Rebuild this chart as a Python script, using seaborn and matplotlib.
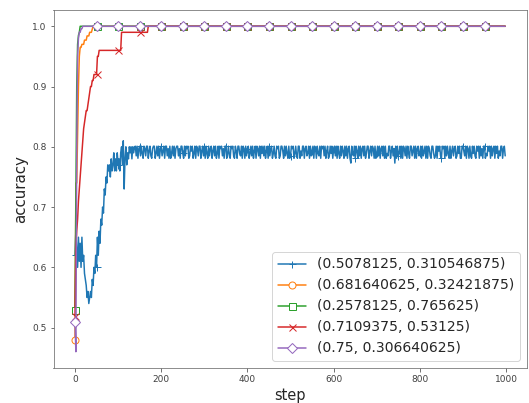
import numpy as np
import pandas as pd
import matplotlib
matplotlib.use("Agg")
import matplotlib.pyplot as plt
import seaborn as sns

# ---------------- data (sampled every 2 steps) ----------------
steps = list(range(0, 1000, 2))  # 500 samples

labels = [
    "(0.5078125, 0.310546875)",
    "(0.681640625, 0.32421875)",
    "(0.2578125, 0.765625)",
    "(0.7109375, 0.53125)",
    "(0.75, 0.306640625)",
]

blue_head = [
    .62, .66, .63, .60, .65, .61, .64, .60, .65, .61,
    .62, .59, .58, .57, .55, .56, .54, .55, .56, .55,
    .58, .57, .60, .59, .62, .60, .65, .62, .66, .64,
    .68, .67, .70, .69, .73, .72, .75, .74, .77, .76,
    .77, .75, .78, .76, .77, .79, .76, .78, .76, .79,
    .77, .78, .76, .79, .80, .77, .81, .73, .78, .80,
    .77, .79, .78, .80, .79, .80, .78, .80, .79, .80,
]
blue_tail = [
    .801, .785, .801, .781, .797, .801, .785, .801, .789, .781,
    .801, .797, .785, .801, .801, .781, .793, .801, .785, .781,
    .797, .801, .801, .781, .789, .801, .785, .801, .781, .797,
    .801, .785, .793, .801, .781, .801, .801, .785, .797, .781,
    .801, .781, .789, .801, .785, .801, .781, .797, .801, .801,
    .785, .797, .781, .801, .801, .789, .781, .801, .785, .801,
    .797, .801, .781, .785, .801, .793, .801, .781, .789, .801,
    .781, .801, .797, .785, .801, .801, .781, .793, .801, .785,
    .801, .781, .801, .789, .781, .801, .785, .797, .801, .781,
    .793, .801, .785, .801, .781, .789, .801, .781, .801, .797,
    .801, .785, .797, .781, .801, .801, .781, .789, .801, .785,
    .781, .801, .797, .801, .785, .781, .801, .793, .781, .801,
    .801, .789, .785, .801, .781, .801, .797, .781, .801, .785,
    .797, .801, .781, .789, .801, .785, .801, .781, .793, .801,
    .781, .801, .797, .785, .801, .781, .801, .789, .801, .785,
    .801, .781, .793, .801, .781, .801, .785, .797, .801, .781,
    .789, .801, .785, .781, .801, .797, .801, .781, .785, .801,
    .801, .793, .781, .801, .785, .801, .789, .781, .801, .781,
    .785, .801, .797, .801, .781, .789, .801, .785, .781, .801,
    .801, .781, .793, .785, .801, .801, .781, .797, .801, .785,
    .789, .801, .781, .801, .785, .793, .801, .781, .801, .797,
    .781, .801, .789, .785, .801, .781, .801, .797, .801, .785,
    .801, .781, .793, .801, .781, .785, .801, .789, .801, .781,
    .797, .801, .785, .801, .781, .801, .789, .781, .801, .785,
    .801, .793, .781, .801, .785, .801, .781, .797, .801, .781,
    .773, .801, .789, .785, .801, .781, .801, .793, .781, .801,
    .785, .801, .781, .797, .801, .785, .801, .781, .789, .801,
    .801, .781, .793, .801, .785, .801, .797, .781, .801, .781,
    .789, .801, .785, .801, .781, .797, .801, .785, .801, .781,
    .801, .781, .789, .785, .801, .801, .781, .793, .801, .785,
    .797, .773, .801, .781, .801, .785, .789, .801, .781, .801,
    .781, .801, .797, .785, .801, .781, .801, .789, .781, .801,
    .801, .785, .793, .801, .781, .801, .781, .797, .801, .785,
    .789, .801, .781, .801, .785, .793, .801, .781, .801, .781,
    .801, .797, .785, .781, .801, .801, .789, .781, .785, .801,
    .781, .801, .793, .801, .785, .781, .801, .797, .801, .781,
    .801, .785, .801, .789, .781, .801, .781, .793, .801, .785,
    .797, .801, .781, .785, .801, .789, .801, .781, .781, .801,
    .801, .793, .785, .801, .781, .801, .797, .781, .801, .785,
    .781, .801, .789, .801, .785, .781, .801, .793, .801, .781,
    .801, .785, .797, .781, .801, .801, .781, .789, .785, .801,
    .793, .801, .781, .801, .785, .797, .801, .781, .801, .789,
    .801, .781, .793, .785, .801, .801, .781, .797, .801, .785,
]
blue_acc = blue_head + blue_tail

orange_head = [0.48, 0.74, 0.74, 0.82, 0.90, 0.95, 0.965, 0.965, 0.97, 0.97,
               0.97, 0.977, 0.977, 0.977, 0.984, 0.984, 0.984, 0.99, 0.99, 0.99, 0.995]
green_head = [0.53, 0.72, 0.90, 0.97, 0.985, 0.99]
red_head = ([0.52, 0.63, 0.66, 0.68, 0.71, 0.73, 0.75, 0.77, 0.79, 0.81,
             0.83, 0.84, 0.85, 0.86, 0.86, 0.87, 0.88, 0.89, 0.90, 0.90,
             0.91, 0.91, 0.92, 0.92, 0.92, 0.92, 0.95, 0.95, 0.96]
            + [0.96] * 25 + [0.99] * 31)
purple_head = [0.51, 0.46, 0.80, 0.95, 0.98, 0.99, 0.99, 0.996, 0.996]
final_value = 1.0

orange_acc = orange_head + [final_value] * (len(steps) - len(orange_head))
green_acc = green_head + [final_value] * (len(steps) - len(green_head))
red_acc = red_head + [final_value] * (len(steps) - len(red_head))
purple_acc = purple_head + [final_value] * (len(steps) - len(purple_head))

series = [blue_acc, orange_acc, green_acc, red_acc, purple_acc]
markers = ["+", "o", "s", "x", "D"]
msizes = [7, 7, 7, 7, 6.5]
colors = sns.color_palette("tab10", 5)

# ---------------- plot ----------------
sns.set_style("ticks", rc={"axes.edgecolor": "0.45", "xtick.color": "0.45",
                           "ytick.color": "0.45", "axes.linewidth": 1.0})
plt.rcParams["font.family"] = ["DejaVu Sans"]

fig = plt.figure(figsize=(529 / 72, 403 / 72), dpi=72)
ax = fig.add_axes([53.5 / 529, 1 - 368 / 403, (526.7 - 53.5) / 529, (368 - 10) / 403])

for vals, lab, mk, ms, col in zip(series, labels, markers, msizes, colors):
    df = pd.DataFrame({"step": steps, "accuracy": vals})
    sns.lineplot(data=df, x="step", y="accuracy", ax=ax, color=col, label=lab,
                 marker=mk, markevery=25, markersize=ms,
                 markerfacecolor="white", markeredgecolor=col,
                 markeredgewidth=1.0, linewidth=1.5,
                 estimator=None, sort=False, errorbar=None)

for side in ["top", "right"]:
    ax.spines[side].set_visible(True)
ax.tick_params(axis="both", labelsize=9, labelcolor="0.25", length=3.5, width=1.0)
ax.set_xlabel("step", fontsize=14.5)
ax.set_ylabel("accuracy", fontsize=15)
ax.set_yticks([0.5, 0.6, 0.7, 0.8, 0.9, 1.0])
ax.legend(loc="lower right", fontsize=14, frameon=True)

fig.savefig("out.png", dpi=72)
